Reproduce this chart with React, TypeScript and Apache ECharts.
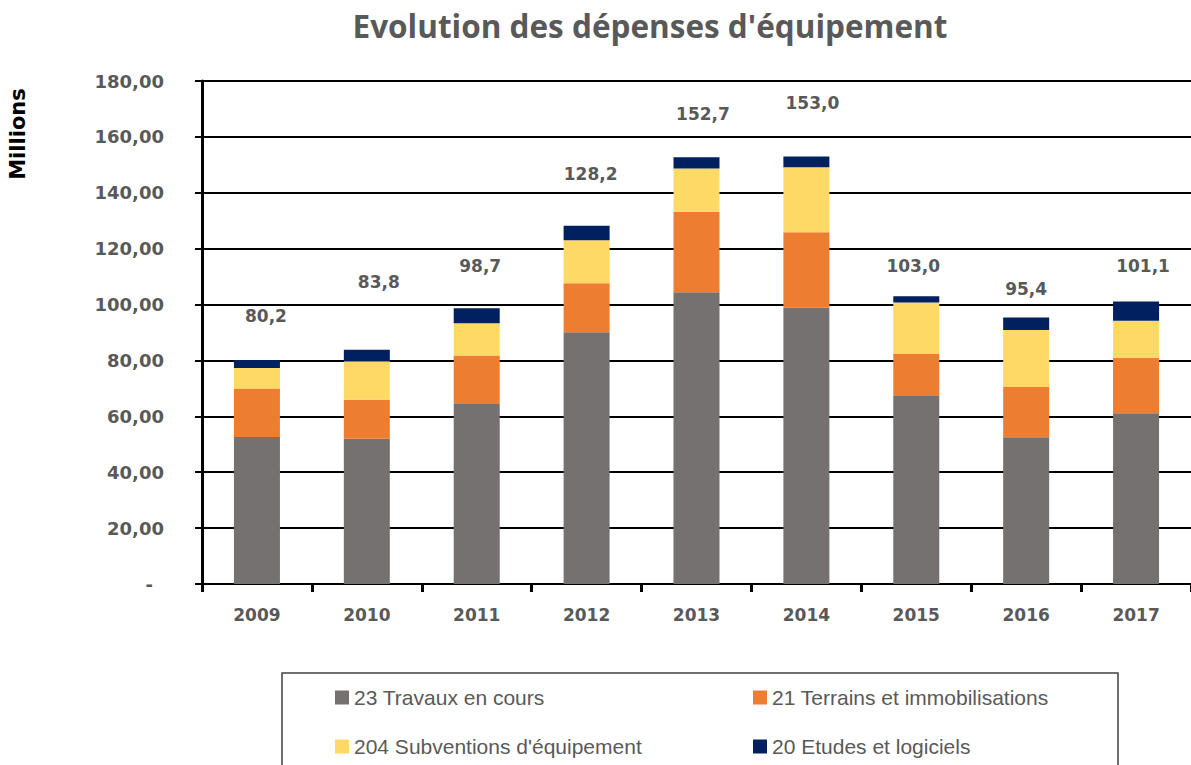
import React, { useEffect, useRef } from 'react';
import * as echarts from 'echarts';

const years = ['2009', '2010', '2011', '2012', '2013', '2014', '2015', '2016', '2017'];
const seriesNames = [
  '23 Travaux en cours',
  '21 Terrains et immobilisations',
  "204 Subventions d'équipement",
  '20 Etudes et logiciels',
];
const travaux = [52.6, 52.0, 64.4, 90.1, 104.4, 98.9, 67.3, 52.5, 61.1];
const terrains = [17.4, 13.9, 17.4, 17.5, 28.8, 27.0, 15.0, 18.0, 19.9];
const subventions = [7.3, 13.8, 11.5, 15.4, 15.5, 23.2, 18.4, 20.4, 13.2];
const etudes = [2.9, 4.1, 5.4, 5.2, 4.0, 3.9, 2.3, 4.5, 6.9];
const totals = [80.2, 83.8, 98.7, 128.2, 152.7, 153.0, 103.0, 95.4, 101.1];

// label placement (layout only)
const labelOffsets: [number, number][] = [
  [9, -35.5], [12, -59.5], [3.5, -34], [4, -43.5], [6.5, -34.5],
  [6, -44.5], [-3, -21.5], [0, -19.5], [7, -26.5],
];

const colors = ['#767171', '#ED7D31', '#FFD966', '#002060'];
const fmt = (v: number, d: number) => v.toFixed(d).replace('.', ',');

export default function App() {
  const ref = useRef<HTMLDivElement>(null);
  useEffect(() => {
    if (!ref.current) return;
    const chart = echarts.init(ref.current, undefined, { renderer: 'svg' });
    const legendText = { color: '#595959', fontFamily: 'Liberation Sans', fontSize: 21 };
    const legendBase = {
      orient: 'horizontal' as const,
      icon: 'rect',
      itemWidth: 14,
      itemHeight: 14,
      padding: 0,
      textStyle: legendText,
    };
    const seriesData = [travaux, terrains, subventions, etudes];
    chart.setOption({
      animation: false,
      color: colors,
      grid: { left: 202, top: 81, width: 993, height: 503, containLabel: false },
      graphic: [
        {
          type: 'text',
          x: 650,
          y: 25,
          style: {
            text: "Evolution des dépenses d'équipement",
            align: 'center',
            verticalAlign: 'middle',
            fill: '#595959',
            font: 'bold 31.5px "Open Sans"',
          },
        },
        {
          type: 'text',
          x: 17.5,
          y: 134,
          rotation: Math.PI / 2,
          style: {
            text: 'Millions',
            align: 'center',
            verticalAlign: 'middle',
            fill: '#000000',
            font: 'bold 21px "DejaVu Sans"',
          },
        },
        {
          type: 'rect',
          shape: { x: 282, y: 673, width: 836, height: 140 },
          style: { fill: 'none', stroke: '#404040', lineWidth: 1.5 },
        },
      ],
      legend: [
        { ...legendBase, data: [seriesNames[0]], left: 335, top: 687 },
        { ...legendBase, data: [seriesNames[1]], left: 753, top: 687 },
        { ...legendBase, data: [seriesNames[2]], left: 335, top: 736 },
        { ...legendBase, data: [seriesNames[3]], left: 753, top: 736 },
      ],
      xAxis: {
        type: 'category',
        data: years,
        axisLine: { lineStyle: { color: '#000', width: 2 } },
        axisTick: { show: true, length: 8, lineStyle: { color: '#000', width: 3 } },
        axisLabel: {
          margin: 22,
          color: '#595959',
          fontFamily: 'DejaVu Sans',
          fontWeight: 'bold',
          fontSize: 17,
        },
      },
      yAxis: {
        type: 'value',
        min: 0,
        max: 180,
        interval: 20,
        axisLine: { show: true, lineStyle: { color: '#000', width: 3 } },
        axisTick: { show: true, length: 7, lineStyle: { color: '#000', width: 2 } },
        splitLine: { show: true, lineStyle: { color: '#000', width: 2 } },
        axisLabel: {
          margin: 38,
          color: '#595959',
          fontFamily: 'DejaVu Sans',
          fontWeight: 'bold',
          fontSize: 18,
          formatter: (v: number) => (v === 0 ? '{z|-}' : fmt(v, 2)),
          rich: {
            z: {
              color: '#595959',
              fontFamily: 'DejaVu Sans',
              fontWeight: 'bold',
              fontSize: 18,
              padding: [0, 11, 0, 0],
            },
          },
        },
      },
      series: seriesData.map((arr, si) => ({
        name: seriesNames[si],
        type: 'bar',
        stack: 'total',
        barWidth: 46,
        itemStyle: { color: colors[si] },
        data:
          si === 3
            ? arr.map((v, i) => ({
                value: v,
                label: {
                  show: true,
                  position: 'top',
                  distance: 0,
                  offset: labelOffsets[i],
                  formatter: () => fmt(totals[i], 1),
                  color: '#595959',
                  fontFamily: 'DejaVu Sans',
                  fontWeight: 'bold',
                  fontSize: 17,
                },
              }))
            : arr,
      })),
    });
    return () => chart.dispose();
  }, []);
  return (
    <div
      ref={ref}
      style={{ position: 'absolute', left: 0, top: 0, width: 1191, height: 765, background: '#fff' }}
    />
  );
}
